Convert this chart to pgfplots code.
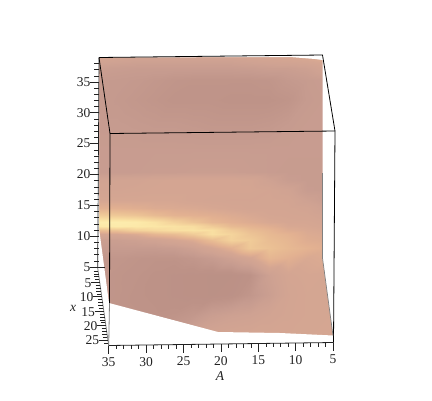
\documentclass[border=0pt]{standalone}
\usepackage{fontspec}
\setmainfont{Liberation Serif}
\usepackage{pgfplots}
\pgfplotsset{compat=1.18}
\definecolor{axisink}{HTML}{222222}
\tikzset{lab/.style={font=\fontsize{13.5}{14}\selectfont, text=axisink, inner sep=0pt, anchor=center}}
\begin{document}
\begin{tikzpicture}
\useasboundingbox (0,0) rectangle (432pt,400pt);
\begin{axis}[
  at={(0,0)}, anchor=south west,
  scale only axis, width=432pt, height=400pt,
  xmin=0, xmax=432, ymin=0, ymax=400, y dir=reverse,
  hide axis,
  unbounded coords=jump,
  point meta min=0, point meta max=10,
  colormap={skin}{
    rgb255=(185,143,133) rgb255=(189,146,135) rgb255=(198,155,143)
    rgb255=(207,162,146) rgb255=(213,166,146) rgb255=(226,176,145)
    rgb255=(233,189,147) rgb255=(240,203,152) rgb255=(246,216,158)
    rgb255=(251,230,166) rgb255=(253,238,176)},
]
% surface, values on a grid (x, y in image px, colour level in brackets)
\addplot[surf, shader=interp, mesh/cols=14, point meta=explicit] coordinates {
(98,55)[4] (117,55)[4] (136,55)[3.5] (155,55)[3.5] (174,55)[3.5] (193,55)[3.5] (212,55)[3.5] (231,55)[3.5] (250,55)[4] (269,55)[4] (288,55)[4] (307,55)[4.5] (326,55)[4.5] (336,55)[4.5]
(98,60)[3.5] (117,60)[3.2] (136,60)[3] (155,60)[3] (174,60)[3] (193,60)[3] (212,60)[3] (231,60)[3] (250,60)[3.3] (269,60)[3.5] (288,60)[3.7] (307,60)[4] (326,60)[4.5] (336,60)[4.5]
(98,68)[2.5] (117,68)[2.3] (136,68)[2.2] (155,68)[2.2] (174,68)[2.2] (193,68)[2.2] (212,68)[2.2] (231,68)[2.2] (250,68)[2.3] (269,68)[2.5] (288,68)[2.5] (307,68)[2.8] (326,68)[3.5] (336,68)[3.5]
(98,80)[2] (117,80)[1.9] (136,80)[1.8] (155,80)[1.6] (174,80)[1.4] (193,80)[1.3] (212,80)[1.3] (231,80)[1.3] (250,80)[1.3] (269,80)[1.4] (288,80)[1.8] (307,80)[2.1] (326,80)[2.3] (336,80)[2.3]
(98,100)[2] (117,100)[1.8] (136,100)[1.6] (155,100)[1.4] (174,100)[1.2] (193,100)[1.2] (212,100)[1.2] (231,100)[1.1] (250,100)[1.1] (269,100)[1.1] (288,100)[1.3] (307,100)[2] (326,100)[2.2] (336,100)[2.2]
(98,125)[2] (117,125)[2] (136,125)[1.9] (155,125)[1.8] (174,125)[1.8] (193,125)[1.7] (212,125)[1.6] (231,125)[1.6] (250,125)[1.6] (269,125)[1.7] (288,125)[2] (307,125)[2.2] (326,125)[2.2] (336,125)[2.2]
(98,150)[2.2] (117,150)[2.2] (136,150)[2.2] (155,150)[2.2] (174,150)[2.2] (193,150)[2.2] (212,150)[2.2] (231,150)[2.2] (250,150)[2.2] (269,150)[2.2] (288,150)[2.2] (307,150)[2.2] (326,150)[2.2] (336,150)[2.2]
(98,172)[2.2] (117,172)[2.2] (136,172)[2.2] (155,172)[2.3] (174,172)[2.3] (193,172)[2.4] (212,172)[2.4] (231,172)[2.4] (250,172)[2.3] (269,172)[2.2] (288,172)[2.1] (307,172)[2.1] (326,172)[2.1] (336,172)[2.1]
(98,180)[3.3] (117,180)[3.4] (136,180)[3.5] (155,180)[3.7] (174,180)[3.8] (193,180)[3.8] (212,180)[3.8] (231,180)[3.8] (250,180)[3.7] (269,180)[3] (288,180)[2.3] (307,180)[2.1] (326,180)[2.1] (336,180)[2.1]
(98,190)[3.6] (117,190)[3.6] (136,190)[3.7] (155,190)[3.8] (174,190)[3.8] (193,190)[3.8] (212,190)[3.8] (231,190)[3.8] (250,190)[3.8] (269,190)[3.6] (288,190)[3.2] (307,190)[2.2] (326,190)[2.1] (336,190)[2.1]
(98,200)[4] (117,200)[4] (136,200)[4] (155,200)[4] (174,200)[4] (193,200)[3.8] (212,200)[3.7] (231,200)[3.6] (250,200)[3.6] (269,200)[3.7] (288,200)[3.6] (307,200)[2.9] (326,200)[2.3] (336,200)[2.3]
(98,208)[5] (117,208)[5] (136,208)[4.8] (155,208)[4.5] (174,208)[4.4] (193,208)[4.3] (212,208)[4.1] (231,208)[3.9] (250,208)[3.7] (269,208)[3.7] (288,208)[3.7] (307,208)[3.5] (326,208)[2.8] (336,208)[2.8]
(98,215)[7] (117,215)[6.8] (136,215)[6.5] (155,215)[5.8] (174,215)[5.2] (193,215)[5] (212,215)[4.8] (231,215)[4.5] (250,215)[4.2] (269,215)[3.9] (288,215)[3.8] (307,215)[3.7] (326,215)[3.3] (336,215)[3.3]
(98,222)[9.7] (117,222)[9.7] (136,222)[9.5] (155,222)[8.7] (174,222)[7.5] (193,222)[6.5] (212,222)[5.5] (231,222)[5] (250,222)[4.6] (269,222)[4.2] (288,222)[4] (307,222)[4] (326,222)[3.7] (336,222)[3.7]
(98,226)[9.2] (117,226)[9.5] (136,226)[9.3] (155,226)[9] (174,226)[8.7] (193,226)[8.3] (212,226)[7] (231,226)[5.8] (250,226)[5.3] (269,226)[4.8] (288,226)[4.2] (307,226)[4.1] (326,226)[3.9] (336,226)[3.9]
(98,230)[6] (117,230)[6.5] (136,230)[7.5] (155,230)[8] (174,230)[8.5] (193,230)[8.7] (212,230)[8.5] (231,230)[7] (250,230)[6] (269,230)[5.4] (288,230)[4.6] (307,230)[4.3] (326,230)[4.1] (336,230)[4.1]
(98,234)[3.8] (117,234)[4] (136,234)[4.5] (155,234)[5.5] (174,234)[6] (193,234)[7] (212,234)[8.5] (231,234)[7.7] (250,234)[6.5] (269,234)[5.7] (288,234)[5.2] (307,234)[4.5] (326,234)[4.3] (336,234)[4.3]
(98,240)[2.5] (117,240)[2.5] (136,240)[2.8] (155,240)[3.2] (174,240)[3.8] (193,240)[4.5] (212,240)[6] (231,240)[7.5] (250,240)[7] (269,240)[6] (288,240)[5.5] (307,240)[4.7] (326,240)[4.5] (336,240)[4.5]
(98,248)[2] (117,248)[2] (136,248)[2] (155,248)[2] (174,248)[2.2] (193,248)[2.8] (212,248)[3.8] (231,248)[5] (250,248)[6.8] (269,248)[6.3] (288,248)[5.7] (307,248)[5.2] (326,248)[4.8] (336,248)[4.5]
(98,258)[1.5] (117,258)[1.5] (136,258)[1.3] (155,258)[1.2] (174,258)[1.2] (193,258)[1.5] (212,258)[2] (231,258)[2.8] (250,258)[3.8] (269,258)[5.5] (288,258)[5] (307,258)[4.3] (326,258)[4.5] (336,258)[4.3]
(98,275)[1.5] (117,275)[1.3] (136,275)[1.2] (155,275)[1] (174,275)[0.8] (193,275)[0.7] (212,275)[0.6] (231,275)[0.6] (250,275)[1] (269,275)[2.8] (288,275)[3.8] (307,275)[4] (326,275)[3.9] (336,275)[3.8]
(98,295)[1.4] (117,295)[1.3] (136,295)[1.1] (155,295)[1] (174,295)[0.8] (193,295)[0.7] (212,295)[0.6] (231,295)[0.8] (250,295)[1.5] (269,295)[2.5] (288,295)[3.6] (307,295)[3.9] (326,295)[3.9] (336,295)[3.8]
(98,315)[1.3] (117,315)[1.3] (136,315)[1.2] (155,315)[1.1] (174,315)[1.2] (193,315)[1.6] (212,315)[2.4] (231,315)[2.8] (250,315)[3] (269,315)[3.4] (288,315)[3.7] (307,315)[3.9] (326,315)[3.9] (336,315)[3.9]
(98,337)[1.3] (117,337)[1.3] (136,337)[1.2] (155,337)[1.2] (174,337)[2.2] (193,337)[3.2] (212,337)[3.6] (231,337)[3.8] (250,337)[3.9] (269,337)[3.9] (288,337)[3.9] (307,337)[3.9] (326,337)[4] (336,337)[4]
};
% white outside the outline of the surface
\addplot[fill=white, draw=none] coordinates {(90,45) (345,45) (345,350) (333,335.5) (322.5,258) (322.5,60) (315,59) (290,57) (99,57.5) (99,228) (109,303) (218,332) (280,333) (333,335.5) (345,350) (90,350)} \closedcycle;
% box
\addplot[black, line width=0.8pt] coordinates {(99,57.5) (322.5,55) (335,131) (333.5,342.5)};
\addplot[black, line width=0.8pt] coordinates {(99,57.5) (110,133.5) (335,131)};
\addplot[black, line width=0.8pt] coordinates {(110,133.5) (109.5,303)};
\addplot[gray, line width=0.8pt] coordinates {(109.5,303) (108.7,345.5)};
\addplot[gray, line width=0.7pt] coordinates {(322.5,173) (322.5,258) (333,335.5)};
% vertical axis
\addplot[axisink, line width=0.7pt] coordinates {(99,57.5) (97.7,268)};
\addplot[axisink, line width=0.7pt] coordinates {
(89.5,267) (105,267) (nan,nan)
(89.5,236.2) (98.5,236.2) (nan,nan)
(89.5,205.3) (98.5,205.3) (nan,nan)
(89.5,174.5) (98.5,174.5) (nan,nan)
(89.5,143.7) (98.5,143.7) (nan,nan)
(89.5,112.8) (98.5,112.8) (nan,nan)
(89.5,82) (98.5,82)
};
\addplot[axisink, line width=0.6pt] coordinates {
(94,260.8) (98.5,260.8) (nan,nan) (94,254.7) (98.5,254.7) (nan,nan) (94,248.5) (98.5,248.5) (nan,nan) (94,242.3) (98.5,242.3) (nan,nan)
(94,230) (98.5,230) (nan,nan) (94,223.8) (98.5,223.8) (nan,nan) (94,217.7) (98.5,217.7) (nan,nan) (94,211.5) (98.5,211.5) (nan,nan)
(94,199.2) (98.5,199.2) (nan,nan) (94,193) (98.5,193) (nan,nan) (94,186.8) (98.5,186.8) (nan,nan) (94,180.7) (98.5,180.7) (nan,nan)
(94,168.3) (98.5,168.3) (nan,nan) (94,162.2) (98.5,162.2) (nan,nan) (94,156) (98.5,156) (nan,nan) (94,149.8) (98.5,149.8) (nan,nan)
(94,137.5) (98.5,137.5) (nan,nan) (94,131.3) (98.5,131.3) (nan,nan) (94,125.2) (98.5,125.2) (nan,nan) (94,119) (98.5,119) (nan,nan)
(94,106.7) (98.5,106.7) (nan,nan) (94,100.5) (98.5,100.5) (nan,nan) (94,94.3) (98.5,94.3) (nan,nan) (94,88.2) (98.5,88.2) (nan,nan)
(94,75.8) (98.5,75.8) (nan,nan) (94,69.7) (98.5,69.7) (nan,nan) (94,63.5) (98.5,63.5)
};
% x axis, running into the picture
\addplot[gray, line width=0.8pt] coordinates {(97.7,268) (108.7,345.5)};
\addplot[axisink, line width=0.7pt] coordinates {
(90.7,282.4) (99.7,282.4) (nan,nan) (92.7,296.8) (101.7,296.8) (nan,nan) (94.7,311.2) (103.7,311.2) (nan,nan) (96.7,325.6) (105.7,325.6) (nan,nan) (98.7,340) (107.7,340)
};
\addplot[axisink, line width=0.6pt] coordinates {
(93.6,270.9) (98.1,270.9) (nan,nan) (94,273.8) (98.5,273.8) (nan,nan) (94.4,276.6) (98.9,276.6) (nan,nan) (94.8,279.5) (99.3,279.5) (nan,nan)
(95.6,285.3) (100.1,285.3) (nan,nan) (96,288.2) (100.5,288.2) (nan,nan) (96.4,291) (100.9,291) (nan,nan) (96.8,293.9) (101.3,293.9) (nan,nan)
(97.6,299.7) (102.1,299.7) (nan,nan) (98,302.6) (102.5,302.6) (nan,nan) (98.4,305.4) (102.9,305.4) (nan,nan) (98.8,308.3) (103.3,308.3) (nan,nan)
(99.6,314.1) (104.1,314.1) (nan,nan) (100,317) (104.5,317) (nan,nan) (100.4,319.8) (104.9,319.8) (nan,nan) (100.8,322.7) (105.3,322.7) (nan,nan)
(101.6,328.5) (106.1,328.5) (nan,nan) (102,331.4) (106.5,331.4) (nan,nan) (102.4,334.2) (106.9,334.2) (nan,nan) (102.8,337.1) (107.3,337.1) (nan,nan)
(104.4,342.9) (108.1,342.9)
};
% A axis
\addplot[axisink, line width=0.8pt] coordinates {(108.7,345.5) (333.5,342.5)};
\addplot[axisink, line width=0.7pt] coordinates {
(108.7,345.5) (108.7,353.5) (nan,nan) (146.1,345) (146.1,353) (nan,nan) (183.5,344.5) (183.5,352.5) (nan,nan) (220.9,344) (220.9,352) (nan,nan)
(258.3,343.5) (258.3,351.5) (nan,nan) (295.7,343) (295.7,351) (nan,nan) (333.1,342.5) (333.1,350.5)
};
\addplot[axisink, line width=0.6pt] coordinates {
(116.2,345.4) (116.2,349.4) (nan,nan) (123.7,345.3) (123.7,349.3) (nan,nan) (131.1,345.2) (131.1,349.2) (nan,nan) (138.6,345.1) (138.6,349.1) (nan,nan)
(153.6,344.9) (153.6,348.9) (nan,nan) (161.1,344.8) (161.1,348.8) (nan,nan) (168.5,344.7) (168.5,348.7) (nan,nan) (176,344.6) (176,348.6) (nan,nan)
(191,344.4) (191,348.4) (nan,nan) (198.5,344.3) (198.5,348.3) (nan,nan) (205.9,344.2) (205.9,348.2) (nan,nan) (213.4,344.1) (213.4,348.1) (nan,nan)
(228.4,343.9) (228.4,347.9) (nan,nan) (235.9,343.8) (235.9,347.8) (nan,nan) (243.3,343.7) (243.3,347.7) (nan,nan) (250.8,343.6) (250.8,347.6) (nan,nan)
(265.8,343.4) (265.8,347.4) (nan,nan) (273.3,343.3) (273.3,347.3) (nan,nan) (280.7,343.2) (280.7,347.2) (nan,nan) (288.2,343.1) (288.2,347.1) (nan,nan)
(303.2,342.9) (303.2,346.9) (nan,nan) (310.7,342.8) (310.7,346.8) (nan,nan) (318.1,342.7) (318.1,346.7) (nan,nan) (325.6,342.6) (325.6,346.6)
};
% tick labels
\node[lab] at (axis cs:83.5,82) {35};
\node[lab] at (axis cs:83.5,113) {30};
\node[lab] at (axis cs:83.5,143.5) {25};
\node[lab] at (axis cs:83.5,174.5) {20};
\node[lab] at (axis cs:83.5,205.5) {15};
\node[lab] at (axis cs:83.5,236) {10};
\node[lab] at (axis cs:87,267) {5};
\node[lab] at (axis cs:88,282.7) {5};
\node[lab] at (axis cs:86.7,296.8) {10};
\node[lab] at (axis cs:88,312) {15};
\node[lab] at (axis cs:90.5,326) {20};
\node[lab] at (axis cs:92.3,340.5) {25};
\node[lab] at (axis cs:108.7,362) {35};
\node[lab] at (axis cs:146.1,362) {30};
\node[lab] at (axis cs:183.5,361.5) {25};
\node[lab] at (axis cs:220.9,361) {20};
\node[lab] at (axis cs:258.3,360.5) {15};
\node[lab] at (axis cs:295.7,360) {10};
\node[lab] at (axis cs:333.1,359.5) {5};
\node[lab] at (axis cs:73,308) {\itshape x};
\node[lab] at (axis cs:220,376) {\itshape A};
\end{axis}
\end{tikzpicture}
\end{document}
